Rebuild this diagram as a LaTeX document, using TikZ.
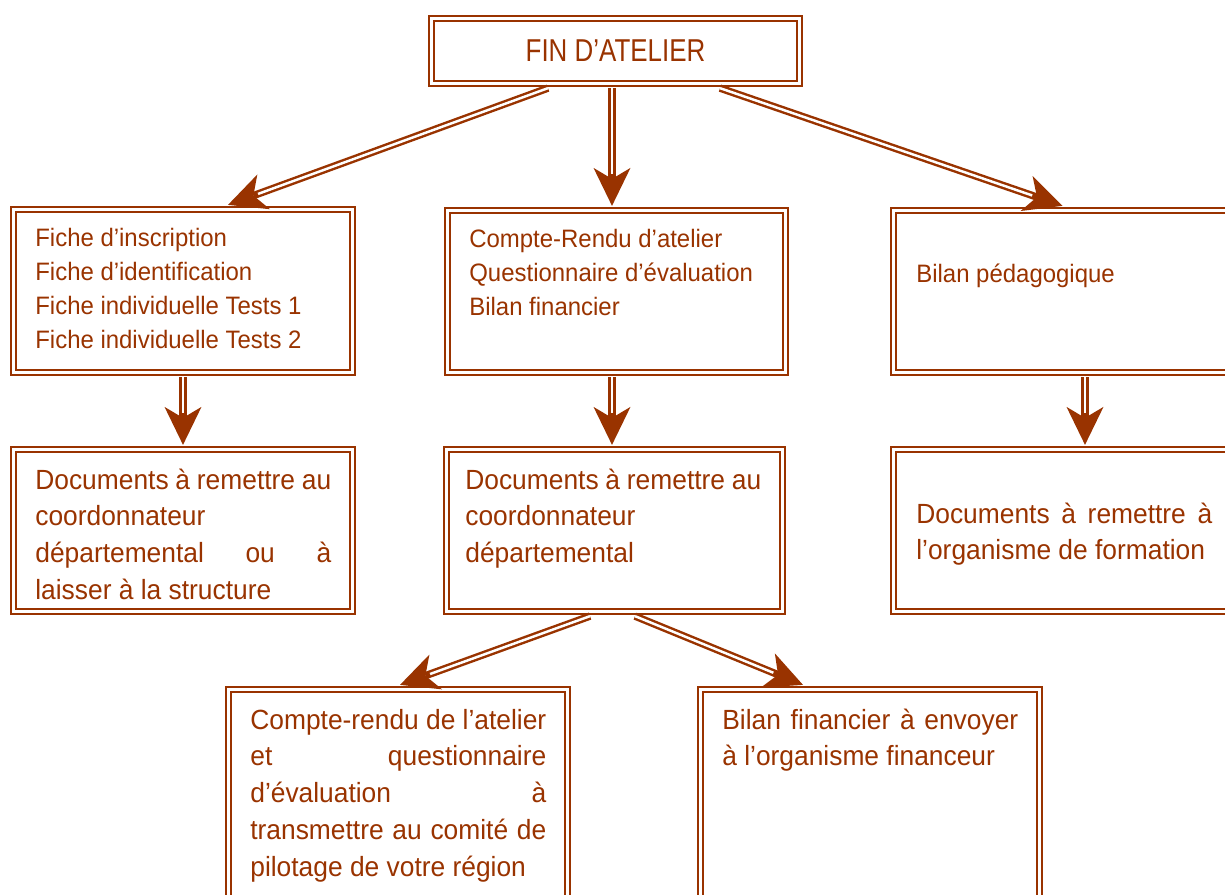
\documentclass[tikz,border=0pt]{standalone}
\usepackage{fontspec}
\setmainfont[FakeStretch=0.95]{Liberation Sans}
\newfontfamily\titlefont[FakeStretch=0.82]{Liberation Sans}
\usetikzlibrary{arrows.meta,calc}
\definecolor{brc}{HTML}{993300}
\newcommand{\jline}[1]{\makebox[5.92cm][s]{#1}}

\begin{document}
\begin{tikzpicture}[x=0.02cm, y=-0.02cm, every node/.style={text=brc}]
		% Define styles
		\tikzstyle{frame}=[draw=brc, line width=1.3pt, double, double distance=1.4pt, minimum width=6.78cm, minimum height=3.26cm, inner sep=0pt]
		\tikzstyle{small text}=[anchor=base west, inner sep=0pt, text width=6.2cm, align=justify, font=\fontsize{14.35}{19.3}\selectfont]
		\tikzstyle{big text}=[small text, font=\fontsize{15.8}{21}\selectfont]
		\tikzstyle{link}=[draw=brc, line width=4.2pt, -{Stealth[length=0.76cm, width=0.74cm, inset=0.22cm, line width=0pt]}, postaction={draw=white, line width=1.4pt, -, shorten >=0.64cm}]
		
		\useasboundingbox (0,0) rectangle (1225,895);
		\clip (0,0) rectangle (1225,895);
		
		% Top box
		\node[frame, minimum width=7.36cm, minimum height=1.3cm, font=\titlefont\fontsize{18}{22}\selectfont] (fin) at (615.5,51) {FIN D’ATELIER};
		
		% Second row
		\node[frame] (l1) at (183,291) {};
		\node[frame, minimum width=6.76cm, minimum height=3.24cm] (m1) at (616.5,291.5) {};
		\node[frame, minimum width=6.76cm, minimum height=3.24cm] (r1) at (1062.5,291.5) {};
		\node[small text] (l1text) at (35,247) {Fiche d’inscription\\Fiche d’identification\\Fiche individuelle Tests 1\\Fiche individuelle Tests 2};
		\node[small text] (m1text) at (469,248) {Compte-Rendu d’atelier\\Questionnaire d’évaluation\\Bilan financier};
		\node[small text] (r1text) at (916,283) {Bilan pédagogique};
		
		% Third row
		\node[frame, minimum height=3.24cm] (l2) at (183,530.5) {};
		\node[frame, minimum width=6.72cm, minimum height=3.24cm] (m2) at (614.5,530.5) {};
		\node[frame, minimum width=6.76cm, minimum height=3.24cm] (r2) at (1062.5,530.5) {};
		\node[big text] (l2text) at (35,489) {\jline{Documents à remettre au}\\coordonnateur\\\jline{départemental ou à}\\laisser à la structure};
		\node[big text] (m2text) at (465,489) {\jline{Documents à remettre au}\\coordonnateur\\départemental};
		\node[big text] (r2text) at (916,523) {\jline{Documents à remettre à}\\l’organisme de formation};
		
		% Bottom row
		\node[frame, minimum height=4.8cm] (l3) at (398,809.5) {};
		\node[frame, minimum height=4.8cm] (r3) at (870,809.5) {};
		\node[big text] (l3text) at (250,729) {\jline{Compte-rendu de l’atelier}\\\jline{et questionnaire}\\\jline{d’évaluation à}\\\jline{transmettre au comité de}\\pilotage de votre région};
		\node[big text] (r3text) at (722,729) {\jline{Bilan financier à envoyer}\\à l’organisme financeur};
		
		% Arrows
		\draw[link] ($(fin.south)+(-67.5,3.5)$) -- ($(l1.north)+(45,-3.5)$);
		\draw[link] ($(fin.south)+(-3.5,3.5)$) -- ($(m1.north)+(-4.5,-3.5)$);
		\draw[link] ($(fin.south)+(104.5,3.5)$) -- ($(r1.north)+(0,-3.5)$);
		\draw[link] ($(l1.south)+(0,3.5)$) -- ($(l2.north)+(0,-3.5)$);
		\draw[link] ($(m1.south)+(-4.5,3.5)$) -- ($(m2.north)+(-2.5,-3.5)$);
		\draw[link] ($(r1.south)+(22.5,3.5)$) -- ($(r2.north)+(22.5,-3.5)$);
		\draw[link] ($(m2.south)+(-24.5,3.5)$) -- ($(l3.north)+(2,-3.5)$);
		\draw[link] ($(m2.south)+(20.5,3.5)$) -- ($(r3.north)+(-67,-3.5)$);
		
	\end{tikzpicture}
\end{document}
